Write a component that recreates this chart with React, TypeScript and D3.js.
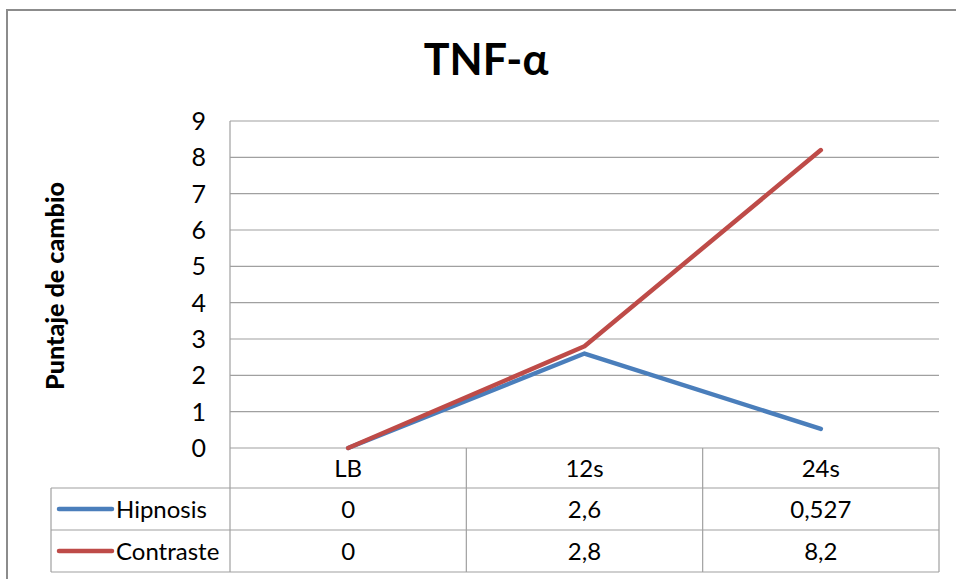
import React from "react";
import * as d3 from "d3";

// Series and table content
const categories = ["LB", "12s", "24s"];
const seriesNames = ["Hipnosis", "Contraste"];
const hipnosis = [0, 2.6, 0.527];
const contraste = [0, 2.8, 8.2];
const seriesColors = ["#4A7EBB", "#BE4B48"];
const yTickValues = [0, 1, 2, 3, 4, 5, 6, 7, 8, 9];
const title = "TNF-α";
const yAxisTitle = "Puntaje de cambio";

const W = 956;
const H = 579;
const FONT = "Lato, 'Open Sans', sans-serif";

// Layout of plot area and the data table below it
const plot = { left: 230, right: 939, top: 121, bottom: 448 };
const tableLeft = 51;
const headerBottom = 488;
const rowHeight = 42;

const fmt = (v: number) => String(v).replace(".", ",");

export default function App() {
  const x = d3.scaleBand<string>().domain(categories).range([plot.left, plot.right]);
  const y = d3.scaleLinear().domain([0, 9]).range([plot.bottom, plot.top]);
  const cx = (c: string) => (x(c) as number) + x.bandwidth() / 2;

  const line = d3
    .line<number>()
    .x((_, i) => cx(categories[i]))
    .y((d) => y(d));

  const series = [hipnosis, contraste];
  const gridColor = "#A0A0A0";
  const tableBottom = headerBottom + rowHeight * series.length;

  return (
    <div style={{ position: "absolute", left: 0, top: 0 }}>
      <svg width={W} height={H} style={{ display: "block", background: "#fff" }}>
        {/* chart frame */}
        <rect x={7} y={10} width={W + 10} height={H + 10} fill="#fff" stroke="#8C8C8C" strokeWidth={2} />

        <text x={486} y={75} textAnchor="middle" fontFamily={FONT} fontWeight="bold" fontSize={43} fill="#000">
          {title}
        </text>

        <text
          transform={`translate(64, ${286}) rotate(-90)`}
          textAnchor="middle"
          fontFamily={FONT}
          fontWeight="900"
          fontSize={25}
          textLength={208}
          lengthAdjust="spacingAndGlyphs"
          fill="#000"
        >
          {yAxisTitle}
        </text>

        {/* horizontal gridlines */}
        {yTickValues.map((t) => (
          <line key={t} x1={plot.left} x2={plot.right} y1={y(t)} y2={y(t)} stroke={gridColor} strokeWidth={1.2} />
        ))}
        <line x1={plot.left} x2={plot.left} y1={plot.top} y2={plot.bottom} stroke={gridColor} strokeWidth={1.2} />

        {/* y tick labels */}
        {yTickValues.map((t) => (
          <text key={t} x={206} y={y(t)} dy="0.36em" textAnchor="end" fontFamily={FONT} fontSize={25} fill="#000">
            {t}
          </text>
        ))}

        {/* data table */}
        <g stroke={gridColor} strokeWidth={1.2}>
          {series.map((_, i) => (
            <line key={i} x1={tableLeft} x2={plot.right} y1={headerBottom + rowHeight * i} y2={headerBottom + rowHeight * i} />
          ))}
          <line x1={tableLeft} x2={plot.right} y1={tableBottom} y2={tableBottom} />
          <line x1={tableLeft} x2={tableLeft} y1={headerBottom} y2={tableBottom} />
          {categories.map((c) => (
            <line key={c} x1={x(c) as number} x2={x(c) as number} y1={plot.bottom} y2={tableBottom} />
          ))}
          <line x1={plot.right} x2={plot.right} y1={plot.bottom} y2={tableBottom} />
        </g>

        {categories.map((c) => (
          <text key={c} x={cx(c)} y={(plot.bottom + headerBottom) / 2} dy="0.36em" textAnchor="middle" fontFamily={FONT} fontSize={24} fill="#000">
            {c}
          </text>
        ))}

        {series.map((vals, i) => {
          const rowMid = headerBottom + rowHeight * i + rowHeight / 2;
          return (
            <g key={i}>
              <line x1={59} x2={112} y1={rowMid} y2={rowMid} stroke={seriesColors[i]} strokeWidth={4.5} strokeLinecap="round" />
              <text x={116} y={rowMid} dy="0.36em" fontFamily={FONT} fontSize={24} fill="#000">
                {seriesNames[i]}
              </text>
              {vals.map((v, j) => (
                <text key={j} x={cx(categories[j])} y={rowMid} dy="0.36em" textAnchor="middle" fontFamily={FONT} fontSize={24} fill="#000">
                  {fmt(v)}
                </text>
              ))}
            </g>
          );
        })}

        {/* series lines */}
        {series.map((vals, i) => (
          <path
            key={i}
            d={line(vals) as string}
            fill="none"
            stroke={seriesColors[i]}
            strokeWidth={4.5}
            strokeLinecap="round"
            strokeLinejoin="round"
          />
        ))}
      </svg>
    </div>
  );
}
